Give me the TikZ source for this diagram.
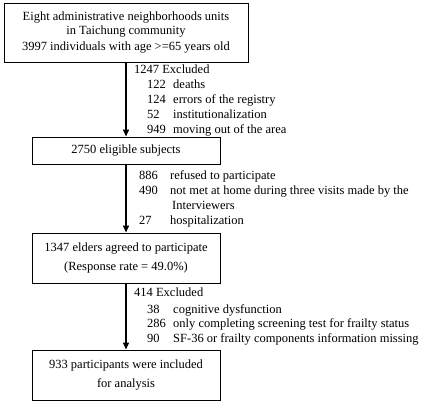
\documentclass[tikz,border=0pt]{standalone}
\usepackage{fontspec}
\setmainfont{Liberation Serif}
\usetikzlibrary{arrows.meta}
\begin{document}
\begin{tikzpicture}[x=1pt,y=-1pt,
  box/.style={draw=black,line width=0.9pt,align=center,inner sep=0pt,font=\fontsize{12.5}{15}\selectfont},
  lbl/.style={anchor=base west,inner sep=0pt,font=\fontsize{12.5}{15}\selectfont},
  flow/.style={line width=1.3pt,-{Triangle[length=7pt,width=6pt]}}]
\useasboundingbox (0,0) rectangle (432,404);
\node[box,minimum width=244pt,minimum height=59pt] (b1) at (126,32.5)
  {Eight administrative neighborhoods units\\[-1pt] in Taichung community\\[1pt] 3997 individuals with age >=65 years old};
\node[box,minimum width=188pt,minimum height=27pt] (b2) at (126,150.5) {2750 eligible subjects};
\node[box,minimum width=188pt,minimum height=50pt] (b3) at (126,258) {1347 elders agreed to participate\\[4pt] (Response rate = 49.0\%)};
\node[box,minimum width=188pt,minimum height=50pt] (b4) at (126,375) {933 participants were included\\[4pt] for analysis};
\draw[flow] (b1) -- (b2);
\draw[flow] (b2) -- (b3);
\draw[flow] (b3) -- (b4);
% first exclusion
\node[lbl] (e1) at (134,74) {1247 Excluded};
\node[lbl] (e1a) at (147,89) {122};
\node[lbl] (e1at) at (173,89) {deaths};
\node[lbl] (e1b) at (147,104) {124};
\node[lbl] (e1bt) at (173,104) {errors of the registry};
\node[lbl] (e1c) at (147,119) {52};
\node[lbl] (e1ct) at (173,119) {institutionalization};
\node[lbl] (e1d) at (147,134) {949};
\node[lbl] (e1dt) at (173,134) {moving out of the area};
% second exclusion
\node[lbl] (e2a) at (139,180) {886};
\node[lbl] (e2at) at (170,180) {refused to participate};
\node[lbl] (e2b) at (139,195) {490};
\node[lbl] (e2bt) at (170,195) {not met at home during three visits made by the};
\node[lbl] (e2bu) at (172,210) {Interviewers};
\node[lbl] (e2c) at (139,225) {27};
\node[lbl] (e2ct) at (170,225) {hospitalization};
% third exclusion
\node[lbl] (e3) at (134,297) {414 Excluded};
\node[lbl] (e3a) at (147,313) {38};
\node[lbl] (e3at) at (173,313) {cognitive dysfunction};
\node[lbl] (e3b) at (147,327) {286};
\node[lbl] (e3bt) at (173,327) {only completing screening test for frailty status};
\node[lbl] (e3c) at (147,342) {90};
\node[lbl] (e3ct) at (173,342) {SF-36 or frailty components information missing};
\end{tikzpicture}
\end{document}
